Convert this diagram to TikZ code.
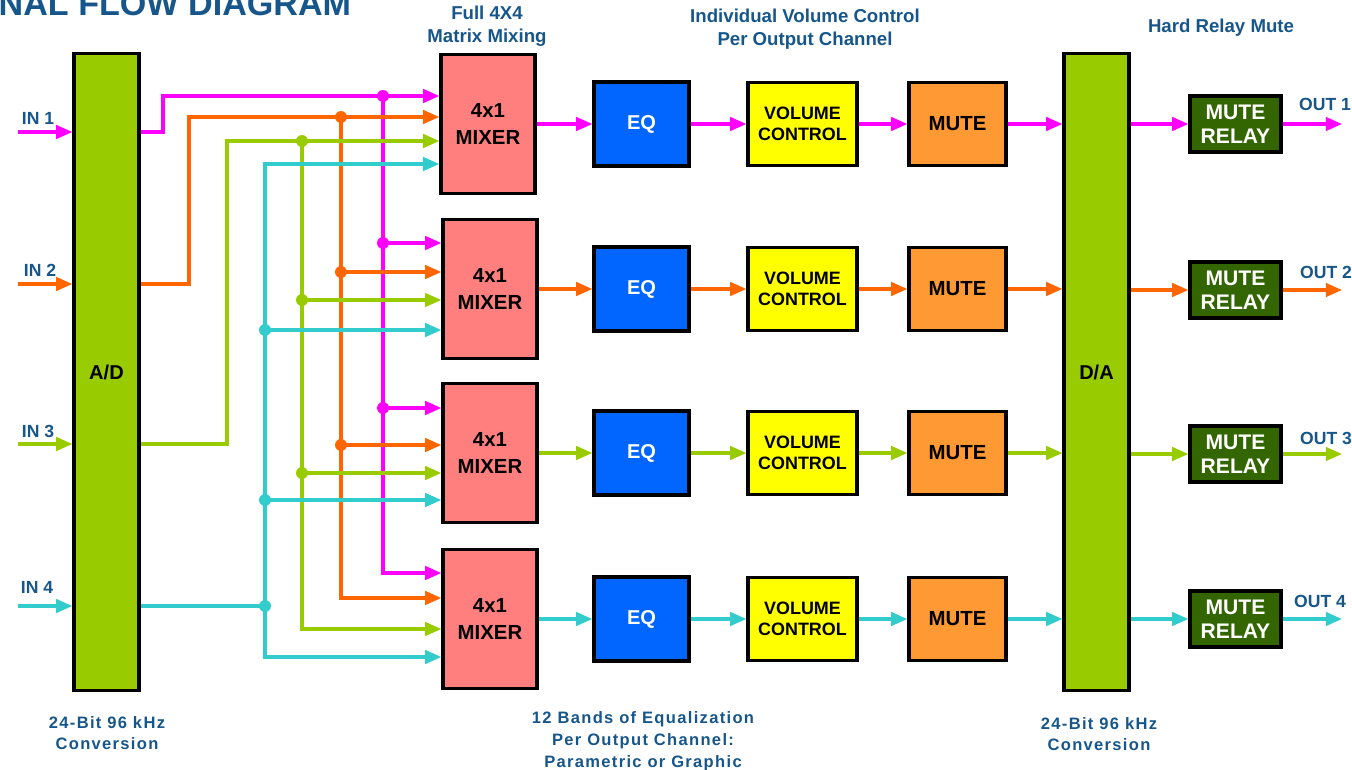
\documentclass[tikz,border=0pt]{standalone}
\usepackage{fontspec}
\setmainfont{Liberation Sans}
\newfontfamily\spacedfont[LetterSpace=8]{Liberation Sans}
\usepackage{tikz}
\usetikzlibrary{positioning, arrows.meta, calc}
\usepackage{xcolor}

\definecolor{sigpink}{HTML}{FF00FF}
\definecolor{sigorange}{HTML}{FF6600}
\definecolor{siggreen}{HTML}{99CC00}
\definecolor{sigcyan}{HTML}{33CCCC}
\definecolor{convgreen}{HTML}{99CC00}
\definecolor{mixred}{HTML}{FF7F7F}
\definecolor{eqblue}{HTML}{0066FF}
\definecolor{volyellow}{HTML}{FFFF00}
\definecolor{muteorange}{HTML}{FF9933}
\definecolor{relaygreen}{HTML}{336600}
\definecolor{labelblue}{HTML}{17568A}

\begin{document}
\begin{tikzpicture}[>={Triangle[length=4.6pt, width=3.8pt]}, x=0.01cm, y=-0.01cm,
  blockbox/.style={draw, line width=0.9pt, inner sep=0pt, align=center},
  conv/.style={blockbox, fill=convgreen, minimum width=0.65cm, minimum height=6.36cm,
    font=\fontsize{5.7pt}{6.8pt}\selectfont\bfseries},
  mixer/.style={blockbox, fill=mixred, minimum width=0.94cm, minimum height=1.39cm,
    font=\fontsize{5.8pt}{7.7pt}\selectfont\bfseries},
  eqbox/.style={blockbox, fill=eqblue, text=white, minimum width=0.95cm, minimum height=0.84cm,
    font=\fontsize{5.7pt}{6.8pt}\selectfont\bfseries},
  volbox/.style={blockbox, fill=volyellow, minimum width=1.09cm, minimum height=0.83cm,
    font=\fontsize{5.1pt}{6pt}\selectfont\bfseries},
  mutebox/.style={blockbox, fill=muteorange, minimum width=0.97cm, minimum height=0.83cm,
    font=\fontsize{5.8pt}{6.8pt}\selectfont\bfseries},
  relaybox/.style={blockbox, fill=relaygreen, text=white, minimum width=0.91cm, minimum height=0.56cm,
    font=\fontsize{6pt}{6.8pt}\selectfont\bfseries},
  headtext/.style={text=labelblue, align=center, inner sep=0pt,
    font=\fontsize{5.3pt}{6.5pt}\selectfont\bfseries},
  foottext/.style={text=labelblue, align=center, inner sep=0pt,
    font=\spacedfont\bfseries\fontsize{4.7pt}{6.2pt}\selectfont},
  iolabel/.style={text=labelblue, inner sep=0pt, font=\fontsize{5pt}{6pt}\selectfont\bfseries},
  sig/.style={line width=0.9pt, draw=#1}]

  \useasboundingbox (0,0) rectangle (1352,770);

  % Title
  \node[anchor=base west, text=labelblue, inner sep=0pt,
    font=\fontsize{9.7pt}{10pt}\selectfont\bfseries] (title) at (-2,16) {NAL FLOW DIAGRAM};

  % Header and footer notes
  \node[headtext] (hmix) at (487,26) {Full 4X4\\Matrix Mixing};
  \node[headtext] (hvol) at (805,29) {Individual Volume Control\\Per Output Channel};
  \node[headtext] (hrelay) at (1221,28) {Hard Relay Mute};
  \node[foottext] (fad) at (107,733) {24-Bit 96 kHz\\Conversion};
  \node[foottext] (feq) at (643,741) {12 Bands of Equalization\\Per Output Channel:\\Parametric or Graphic};
  \node[foottext] (fda) at (1099,734) {24-Bit 96 kHz\\Conversion};

  % Converters
  \node[conv] (ad) at (106.5,372) {A/D};
  \node[conv] (da) at (1096.5,372) {D/A};

  % Mixers
  \node[mixer] (mix1) at (488,124) {4x1\\MIXER};
  \node[mixer] (mix2) at (490,289) {4x1\\MIXER};
  \node[mixer] (mix3) at (490,453) {4x1\\MIXER};
  \node[mixer] (mix4) at (490,619) {4x1\\MIXER};

  % Output chains
  \node[eqbox] (eq1) at (641.5,124) {EQ};
  \node[eqbox] (eq2) at (641.5,289) {EQ};
  \node[eqbox] (eq3) at (641.5,453) {EQ};
  \node[eqbox] (eq4) at (641.5,619) {EQ};

  \node[volbox] (vol1) at (802.5,124) {VOLUME\\CONTROL};
  \node[volbox] (vol2) at (802.5,289) {VOLUME\\CONTROL};
  \node[volbox] (vol3) at (802.5,453) {VOLUME\\CONTROL};
  \node[volbox] (vol4) at (802.5,619) {VOLUME\\CONTROL};

  \node[mutebox] (mute1) at (957.5,124) {MUTE};
  \node[mutebox] (mute2) at (957.5,289) {MUTE};
  \node[mutebox] (mute3) at (957.5,453) {MUTE};
  \node[mutebox] (mute4) at (957.5,619) {MUTE};

  \node[relaybox] (relay1) at (1235.5,124) {MUTE\\RELAY};
  \node[relaybox] (relay2) at (1235.5,290) {MUTE\\RELAY};
  \node[relaybox] (relay3) at (1235.5,454) {MUTE\\RELAY};
  \node[relaybox] (relay4) at (1235.5,619) {MUTE\\RELAY};

  % Inputs
  \coordinate (in1) at (18,132);
  \coordinate (in2) at (18,284);
  \coordinate (in3) at (18,444);
  \coordinate (in4) at (18,606);
  \node[iolabel] (lin1) at (38,118) {IN 1};
  \node[iolabel] (lin2) at (40,270) {IN 2};
  \node[iolabel] (lin3) at (38,431) {IN 3};
  \node[iolabel] (lin4) at (37,587) {IN 4};
  \draw[sig=sigpink, ->] (in1) -- (ad.west |- in1);
  \draw[sig=sigorange, ->] (in2) -- (ad.west |- in2);
  \draw[sig=siggreen, ->] (in3) -- (ad.west |- in3);
  \draw[sig=sigcyan, ->] (in4) -- (ad.west |- in4);

  % Matrix routing: input 1
  \draw[sig=sigpink, ->] (ad.east |- in1) -| (163,96) -- (mix1.west |- 0,96);
  \draw[sig=sigpink, ->] (383,96) |- (mix4.west |- 0,573);
  \draw[sig=sigpink, ->] (383,243) -- (mix2.west |- 0,243);
  \draw[sig=sigpink, ->] (383,408) -- (mix3.west |- 0,408);
  \fill[sigpink] (383,96) circle (1.7pt) (383,243) circle (1.7pt) (383,408) circle (1.7pt);

  % Matrix routing: input 2
  \draw[sig=sigorange, ->] (ad.east |- in2) -| (189,117) -- (mix1.west |- 0,117);
  \draw[sig=sigorange, ->] (341,117) |- (mix4.west |- 0,598);
  \draw[sig=sigorange, ->] (341,272) -- (mix2.west |- 0,272);
  \draw[sig=sigorange, ->] (341,445) -- (mix3.west |- 0,445);
  \fill[sigorange] (341,117) circle (1.7pt) (341,272) circle (1.7pt) (341,445) circle (1.7pt);

  % Matrix routing: input 3
  \draw[sig=siggreen, ->] (ad.east |- in3) -| (227,141) -- (mix1.west |- 0,141);
  \draw[sig=siggreen, ->] (302,141) |- (mix4.west |- 0,629);
  \draw[sig=siggreen, ->] (302,300) -- (mix2.west |- 0,300);
  \draw[sig=siggreen, ->] (302,473) -- (mix3.west |- 0,473);
  \fill[siggreen] (302,141) circle (1.7pt) (302,300) circle (1.7pt) (302,473) circle (1.7pt);

  % Matrix routing: input 4
  \draw[sig=sigcyan] (ad.east |- in4) -- (265,606);
  \draw[sig=sigcyan, ->] (265,606) |- (mix1.west |- 0,164);
  \draw[sig=sigcyan, ->] (265,606) |- (mix4.west |- 0,657);
  \draw[sig=sigcyan, ->] (265,330) -- (mix2.west |- 0,330);
  \draw[sig=sigcyan, ->] (265,500) -- (mix3.west |- 0,500);
  \fill[sigcyan] (265,330) circle (1.7pt) (265,500) circle (1.7pt) (265,606) circle (1.7pt);

  % Channel 1
  \coordinate (out1) at (1342,124);
  \draw[sig=sigpink, ->] (mix1.east) -- (eq1.west);
  \draw[sig=sigpink, ->] (eq1.east) -- (vol1.west);
  \draw[sig=sigpink, ->] (vol1.east) -- (mute1.west);
  \draw[sig=sigpink, ->] (mute1.east) -- (da.west |- mute1.east);
  \draw[sig=sigpink, ->] (da.east |- relay1.west) -- (relay1.west);
  \draw[sig=sigpink, ->] (relay1.east) -- (out1);
  \node[iolabel] (lout1) at (1325,104) {OUT 1};

  % Channel 2
  \coordinate (out2) at (1342,290);
  \draw[sig=sigorange, ->] (mix2.east) -- (eq2.west);
  \draw[sig=sigorange, ->] (eq2.east) -- (vol2.west);
  \draw[sig=sigorange, ->] (vol2.east) -- (mute2.west);
  \draw[sig=sigorange, ->] (mute2.east) -- (da.west |- mute2.east);
  \draw[sig=sigorange, ->] (da.east |- relay2.west) -- (relay2.west);
  \draw[sig=sigorange, ->] (relay2.east) -- (out2);
  \node[iolabel] (lout2) at (1326,272) {OUT 2};

  % Channel 3
  \coordinate (out3) at (1342,454);
  \draw[sig=siggreen, ->] (mix3.east) -- (eq3.west);
  \draw[sig=siggreen, ->] (eq3.east) -- (vol3.west);
  \draw[sig=siggreen, ->] (vol3.east) -- (mute3.west);
  \draw[sig=siggreen, ->] (mute3.east) -- (da.west |- mute3.east);
  \draw[sig=siggreen, ->] (da.east |- relay3.west) -- (relay3.west);
  \draw[sig=siggreen, ->] (relay3.east) -- (out3);
  \node[iolabel] (lout3) at (1326,438) {OUT 3};

  % Channel 4
  \coordinate (out4) at (1342,619);
  \draw[sig=sigcyan, ->] (mix4.east) -- (eq4.west);
  \draw[sig=sigcyan, ->] (eq4.east) -- (vol4.west);
  \draw[sig=sigcyan, ->] (vol4.east) -- (mute4.west);
  \draw[sig=sigcyan, ->] (mute4.east) -- (da.west |- mute4.east);
  \draw[sig=sigcyan, ->] (da.east |- relay4.west) -- (relay4.west);
  \draw[sig=sigcyan, ->] (relay4.east) -- (out4);
  \node[iolabel] (lout4) at (1320,601) {OUT 4};
\end{tikzpicture}
\end{document}
